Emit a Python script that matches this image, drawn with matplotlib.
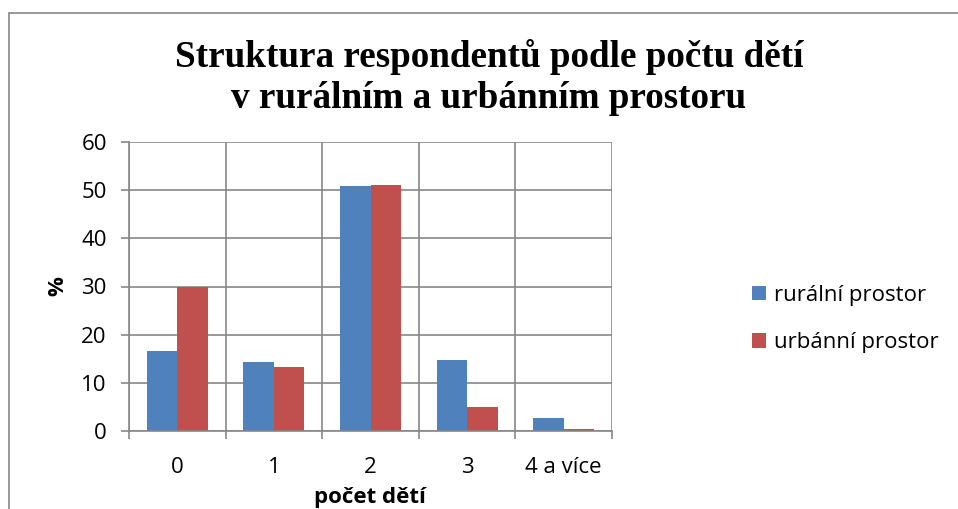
import matplotlib
matplotlib.use("Agg")
import matplotlib.pyplot as plt
from matplotlib.patches import Rectangle
import numpy as np

categories = ["0", "1", "2", "3", "4 a více"]
rural = [16.6, 14.3, 50.9, 14.7, 2.8]
urban = [30.0, 13.3, 51.1, 4.9, 0.4]
series_names = ["rurální prostor", "urbánní prostor"]
yticks = [0, 10, 20, 30, 40, 50, 60]

W, H = 958, 509
fig = plt.figure(figsize=(W / 100, H / 100), dpi=100)
fig.patch.set_facecolor("white")

grid_c = "#878787"
blue = "#4F81BD"
red = "#C0504D"
sans = ["Open Sans", "DejaVu Sans"]
fs = 16

# outer chart border
fig.patches.append(Rectangle((8.5 / W, -0.05), 1.2, 1 - 12.5 / H + 0.05,
                             transform=fig.transFigure, fill=False,
                             edgecolor=grid_c, linewidth=1.2))

left, right, top, bottom = 129 / W, 612 / W, 142 / H, 431 / H
ax = fig.add_axes([left, 1 - bottom, right - left, bottom - top])

x = np.arange(len(categories))
w = 0.315
ax.bar(x - w / 2, rural, width=w, color=blue, label=series_names[0], zorder=3)
ax.bar(x + w / 2, urban, width=w, color=red, label=series_names[1], zorder=3)

ax.set_xlim(-0.5, len(categories) - 0.5)
ax.set_ylim(0, 60)
ax.set_yticks(yticks)
ax.set_yticklabels([str(v) for v in yticks], fontfamily=sans, fontsize=fs)
ax.set_xticks(np.arange(-0.5, len(categories), 1.0))
ax.set_xticklabels([])
ax.set_xticks(x, minor=True)
ax.set_xticklabels(categories, minor=True, fontfamily=sans, fontsize=fs)
ax.tick_params(axis="x", which="minor", length=0, pad=19)
ax.tick_params(axis="x", which="major", length=6, width=1.2, color=grid_c, direction="out")
ax.tick_params(axis="y", length=6, width=1.2, color=grid_c, direction="out", pad=10)

ax.grid(True, axis="y", color=grid_c, linewidth=1.2, zorder=0)
ax.grid(True, axis="x", which="major", color=grid_c, linewidth=1.2, zorder=0)
for s in ["top", "right"]:
    ax.spines[s].set_visible(False)
for s in ["left", "bottom"]:
    ax.spines[s].set_color(grid_c)
    ax.spines[s].set_linewidth(1.2)
    ax.spines[s].set_zorder(4)

fig.text(58 / W, 1 - 286 / H, "%", rotation=90, ha="center", va="center",
         fontfamily=sans, fontsize=fs, fontweight="bold")
fig.text(370 / W, 1 - 497 / H, "počet dětí", ha="center", va="center",
         fontfamily=sans, fontsize=fs, fontweight="bold")

serif = ["Liberation Serif", "DejaVu Serif"]
fig.text(489 / W, 1 - 57 / H, "Struktura respondentů podle počtu dětí",
         ha="center", va="center", fontfamily=serif, fontsize=26.7, fontweight="bold")
fig.text(489 / W, 1 - 98 / H, "v rurálním a urbánním prostoru",
         ha="center", va="center", fontfamily=serif, fontsize=26.7, fontweight="bold")

leg = fig.legend(loc="center left", bbox_to_anchor=(741 / W, 1 - 319 / H),
                 frameon=False, prop={"family": sans, "size": fs},
                 handlelength=0.62, handleheight=0.62, handletextpad=0.35,
                 labelspacing=1.2, borderpad=0)

fig.savefig("out.png", dpi=100)
